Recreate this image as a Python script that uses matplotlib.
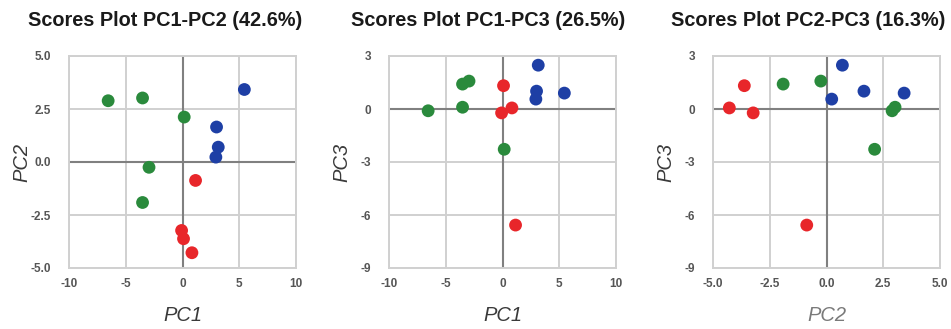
import matplotlib
matplotlib.use("Agg")
import matplotlib.pyplot as plt
from matplotlib.ticker import FixedLocator, FormatStrFormatter

plt.rcParams["font.family"] = ["Liberation Sans", "DejaVu Sans"]
plt.rcParams["axes.unicode_minus"] = False

# Principal component scores for the three sample groups
pc1_green = [-6.55, -3.52, 0.15, -2.95, -3.52]
pc2_green = [2.89, 3.02, 2.12, -0.25, -1.91]
pc3_green = [-0.10, 0.10, -2.28, 1.58, 1.41]

pc1_blue = [5.45, 3.00, 3.15, 2.94]
pc2_blue = [3.42, 1.65, 0.70, 0.23]
pc3_blue = [0.90, 1.01, 2.48, 0.56]

pc1_red = [1.15, -0.08, 0.09, 0.83]
pc2_red = [-0.87, -3.23, -3.62, -4.28]
pc3_red = [-6.57, -0.22, 1.32, 0.06]

titles = ["Scores Plot PC1-PC2 (42.6%)",
          "Scores Plot PC1-PC3 (26.5%)",
          "Scores Plot PC2-PC3 (16.3%)"]

pc1_ticks = [-10, -5, 0, 5, 10]
pc2_ticks = [-5.0, -2.5, 0.0, 2.5, 5.0]
pc3_ticks = [-9, -6, -3, 0, 3]

colors = {"green": "#2a8a3c", "blue": "#1e3fa5", "red": "#e8262a"}

groups = {
    "green": {"PC1": pc1_green, "PC2": pc2_green, "PC3": pc3_green},
    "blue": {"PC1": pc1_blue, "PC2": pc2_blue, "PC3": pc3_blue},
    "red": {"PC1": pc1_red, "PC2": pc2_red, "PC3": pc3_red},
}

ticks = {"PC1": (pc1_ticks, "%d"), "PC2": (pc2_ticks, "%.1f"), "PC3": (pc3_ticks, "%d")}

panels = [("PC1", "PC2"), ("PC1", "PC3"), ("PC2", "PC3")]
lefts = [69 / 951, 389 / 951, 713 / 951]
title_x = [165 / 951, 488 / 951, 808 / 951]
xlabel_colors = ["#3a3a3a", "#3a3a3a", "#7a7a7a"]

fig = plt.figure(figsize=(9.51, 3.29), dpi=100)

for i, (xk, yk) in enumerate(panels):
    ax = fig.add_axes([lefts[i], 1 - 268 / 329, 227 / 951, 212 / 329])
    xt, xf = ticks[xk]
    yt, yf = ticks[yk]
    ax.set_xlim(xt[0], xt[-1])
    ax.set_ylim(yt[0], yt[-1])
    ax.xaxis.set_major_locator(FixedLocator(xt))
    ax.yaxis.set_major_locator(FixedLocator(yt))
    ax.xaxis.set_major_formatter(FormatStrFormatter(xf))
    ax.yaxis.set_major_formatter(FormatStrFormatter(yf))
    ax.grid(True, color="#d0d0d0", linewidth=1.4, zorder=0)
    ax.set_axisbelow(True)
    for sp in ax.spines.values():
        sp.set_color("#d0d0d0")
        sp.set_linewidth(1.4)
    ax.axhline(0, color="#808080", linewidth=1.5, zorder=1)
    ax.axvline(0, color="#808080", linewidth=1.5, zorder=1)
    ax.tick_params(length=0, labelsize=8.5, labelcolor="#555555")
    ax.tick_params(axis="y", pad=13)
    ax.tick_params(axis="x", pad=7)
    for lab in ax.get_xticklabels() + ax.get_yticklabels():
        lab.set_fontweight("bold")

    for name, g in groups.items():
        ax.scatter(g[xk], g[yk], s=85, color=colors[name], edgecolors="none",
                   zorder=3)

    ax.set_xlabel(xk, fontsize=14.5, style="italic", color=xlabel_colors[i])
    ax.set_ylabel(yk, fontsize=14.5, style="italic", color="#3a3a3a")
    ax.xaxis.set_label_coords(0.5, -0.18)
    ax.yaxis.set_label_coords(-0.165, 0.5)

    fig.text(title_x[i], 1 - 21 / 329, titles[i], ha="center", va="center",
             fontsize=14.3, fontweight="bold", color="#1a1a1a")

fig.savefig("out.png", dpi=100, facecolor="white")
